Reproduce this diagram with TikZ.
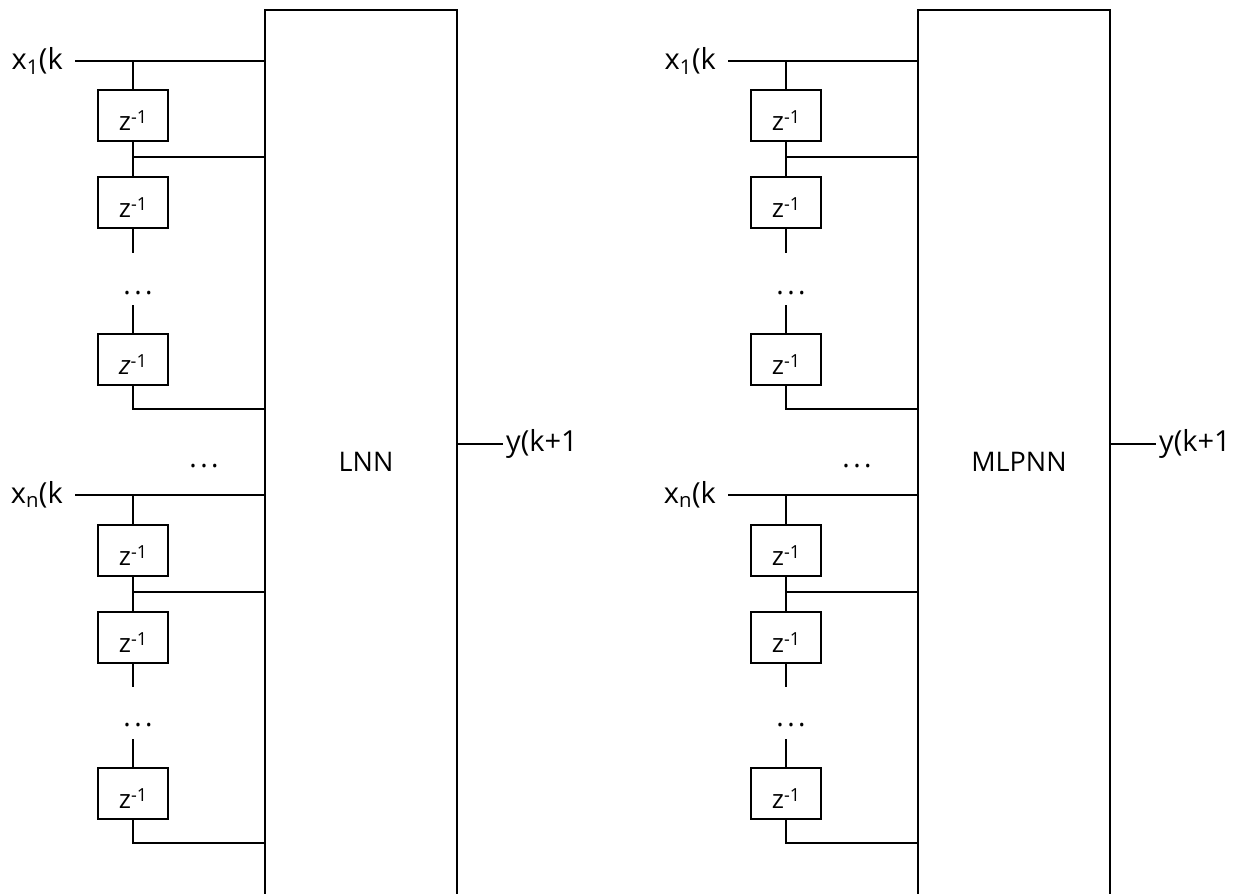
\documentclass[tikz,border=0pt]{standalone}
\usepackage{fontspec}
\setmainfont{Open Sans}
\usetikzlibrary{positioning}

% z^{-1} dentro de los retardos
\newcommand{\zinv}[1]{\raisebox{-15pt}[0pt][0pt]{#1\raisebox{7pt}{\fontsize{18}{18}\selectfont -1}}}
\newcommand{\tdots}{.\hspace{3.5pt}.\hspace{3.5pt}.}

\tikzset{
  wire/.style={line width=1.9pt},
  netbox/.style={draw, line width=1.9pt, minimum width=192pt, minimum height=920pt, inner sep=0pt},
  delay/.style={draw, line width=1.9pt, minimum width=70pt, minimum height=51pt, inner sep=0pt,
    font=\fontsize{26}{26}\selectfont},
  sig/.style={inner xsep=12pt, inner ysep=0pt, font=\fontsize{29}{29}\selectfont},
  netname/.style={font=\fontsize{27}{27}\selectfont},
  dotsnode/.style={anchor=base, inner sep=0pt, font=\fontsize{28}{28}\selectfont},
}

\begin{document}
\begin{tikzpicture}[x=1pt, y=-1pt]

  \useasboundingbox (0,0) rectangle (1250,894);

  \foreach \p/\net/\dx/\zz in {a/LNN/0/{\textit{z}}, b/MLPNN/653/z} {
    \begin{scope}[xshift=\dx pt]

    % Bloque de la red
    \node[netbox] (nn\p) at (361,470) {};
    \node[netname] (name\p) at (366,462) {\net};

    % Primera entrada
    \node[sig, anchor=east] (in1\p) at (75,61) {x\textsubscript{1}(k};
    \node[delay] (z1\p) at (133,115.5) {\zinv{z}};
    \node[delay, below=34pt of z1\p] (z2\p) {\zinv{z}};
    \node[delay, below=104pt of z2\p] (z3\p) {\zinv{\zz}};
    \node[dotsnode] (d1\p) at (138,294) {\tdots};

    \coordinate (t1\p) at (133,60);
    \coordinate (b1\p) at (133,157);
    \coordinate (e1\p) at (133,253);
    \coordinate (s1\p) at (133,305);

    \draw[wire] (in1\p.east) -- (in1\p.east -| nn\p.west);
    \draw[wire] (t1\p) -- (z1\p);
    \draw[wire] (z1\p) -- (z2\p);
    \draw[wire] (b1\p) -- (b1\p -| nn\p.west);
    \draw[wire] (z2\p) -- (e1\p);
    \draw[wire] (s1\p) -- (z3\p);
    \draw[wire] (z3\p) |- (nn\p.west |- 0,409);

    % Entradas intermedias
    \node[dotsnode] (dm\p) at (204,467) {\tdots};

    % Ultima entrada
    \node[sig, anchor=east] (inn\p) at (75,495) {x\textsubscript{n}(k};
    \node[delay] (z4\p) at (133,550.5) {\zinv{z}};
    \node[delay, below=34pt of z4\p] (z5\p) {\zinv{z}};
    \node[delay, below=103pt of z5\p] (z6\p) {\zinv{z}};
    \node[dotsnode] (d2\p) at (138,726) {\tdots};

    \coordinate (t2\p) at (133,495);
    \coordinate (b2\p) at (133,592);
    \coordinate (e2\p) at (133,687);
    \coordinate (s2\p) at (133,739);

    \draw[wire] (inn\p.east) -- (inn\p.east -| nn\p.west);
    \draw[wire] (t2\p) -- (z4\p);
    \draw[wire] (z4\p) -- (z5\p);
    \draw[wire] (b2\p) -- (b2\p -| nn\p.west);
    \draw[wire] (z5\p) -- (e2\p);
    \draw[wire] (s2\p) -- (z6\p);
    \draw[wire] (z6\p) |- (nn\p.west |- 0,843);

    % Salida
    \node[sig, anchor=west, inner xsep=3pt] (out\p) at (503,444) {y(k+1};
    \draw[wire] (nn\p.east |- out\p) -- (out\p);

    \end{scope}
  }

\end{tikzpicture}
\end{document}
